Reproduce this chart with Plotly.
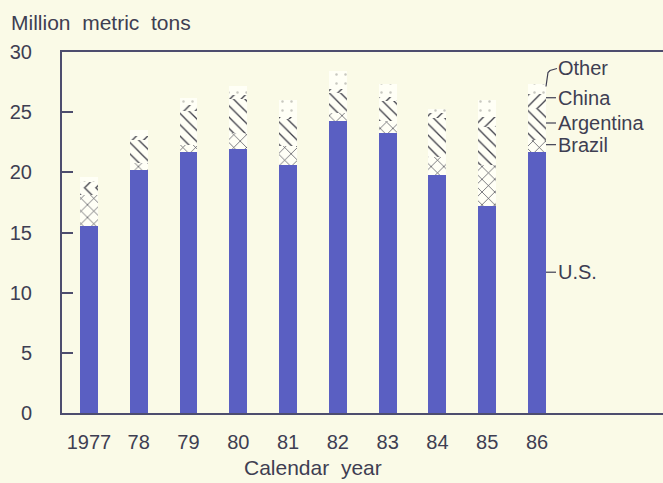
import plotly.graph_objects as go

years = ["1977", "78", "79", "80", "81", "82", "83", "84", "85", "86"]
us = [15.5, 20.2, 21.7, 21.9, 20.6, 24.3, 23.3, 19.8, 17.2, 21.7]
brazil = [2.6, 0.6, 0.6, 1.4, 1.6, 0.6, 1.0, 1.5, 3.4, 1.0]
argentina = [0.6, 1.9, 2.8, 2.8, 2.2, 1.7, 1.6, 3.2, 3.2, 2.6]
china = [0.5, 0.3, 0.5, 0.3, 0.2, 0.3, 0.4, 0.4, 0.8, 1.2]
other = [0.4, 0.5, 0.6, 0.8, 1.4, 1.5, 1.0, 0.4, 1.4, 0.8]
yticks = [0, 5, 10, 15, 20, 25, 30]

series_names = ["U.S.", "Brazil", "Argentina", "China", "Other"]
label_y = [11.7, 22.3, 24.1, 26.2, 28.7]

BG = "#FAFAE7"
INK = "#3e3e52"
FRAME = "#4d4d6e"
BLUE = "#5A5FC2"
HATCH = "#3a3a44"
WHITE = "#FFFFF6"

xpos = list(range(len(years)))
bar_w = 0.36

fig = go.Figure()
fig.add_bar(x=xpos, y=us, name="U.S.", width=bar_w,
            marker=dict(color=BLUE, line=dict(width=0)))
patterns = [("x", brazil, 9, 0.14, HATCH), ("\\", argentina, 8, 0.16, HATCH),
            ("/", china, 8, 0.16, HATCH), (".", other, 9, 0.06, "#c8c8c0")]
for (shape, vals, size, sol, fg), name in zip(patterns, series_names[1:]):
    fig.add_bar(x=xpos, y=vals, name=name, width=bar_w,
                marker=dict(color=WHITE, line=dict(width=0),
                            pattern=dict(shape=shape, fgcolor=fg, bgcolor=WHITE,
                                         size=size, solidity=sol, fillmode="replace")))

FAM = "Liberation Sans, Arial, sans-serif"
font = dict(family=FAM, size=20, color=INK)

fig.update_layout(
    barmode="stack",
    width=663, height=483,
    margin=dict(l=62, r=0, t=52, b=70),
    paper_bgcolor=BG, plot_bgcolor=BG,
    showlegend=False,
    font=font,
    xaxis=dict(range=[-0.54, 11.53], tickvals=xpos, ticktext=years,
               showline=True, linecolor=FRAME, linewidth=2, mirror=True,
               ticks="", showgrid=False, zeroline=False, ticklabelstandoff=10,
               tickfont=font, automargin=False),
    yaxis=dict(range=[0, 30], tickvals=yticks, showline=True, linecolor=FRAME,
               linewidth=2, ticks="inside", ticklen=11, tickcolor=FRAME, tickwidth=1.5,
               showgrid=False, zeroline=False, ticklabelstandoff=24, tickfont=font,
               automargin=False),
)

# axis titles
fig.add_annotation(text="Million\u00a0 metric\u00a0 tons", xref="paper", yref="paper",
                   x=0, y=1, xanchor="left", yanchor="middle", xshift=-53, yshift=30,
                   showarrow=False, font=dict(family=FAM, size=21, color=INK))
fig.add_annotation(text="Calendar\u00a0 year", xref="x", yref="paper",
                   x=(xpos[0] + xpos[-1]) / 2, y=0, yanchor="middle", yshift=-54,
                   showarrow=False, font=dict(family=FAM, size=21, color=INK))

# direct labels for the last bar
last = xpos[-1]
edge = last + bar_w / 2
for name, ly in zip(series_names, label_y):
    fig.add_annotation(text=name, xref="x", yref="y", x=edge, y=ly, xanchor="left",
                       yanchor="middle", xshift=10, showarrow=False,
                       font=dict(family=FAM, size=20, color=INK))
    if name == "Other":
        top = sum(v[-1] for v in [us, brazil, argentina, china, other])
        fig.add_shape(type="path", xref="x", yref="y", xsizemode="pixel", xanchor=edge,
                      ysizemode="pixel", yanchor=top,
                      path="M 0 -2 L 2 12 L 4 14 L 11 16",
                      line=dict(color=INK, width=1.2))
    else:
        fig.add_shape(type="line", xref="x", yref="y", xsizemode="pixel", xanchor=edge,
                      x0=0, x1=10, y0=ly, y1=ly, line=dict(color=INK, width=1.2))

fig.write_html("out.html", config={"displayModeBar": False},
               post_script="document.body.style.margin='0';")
